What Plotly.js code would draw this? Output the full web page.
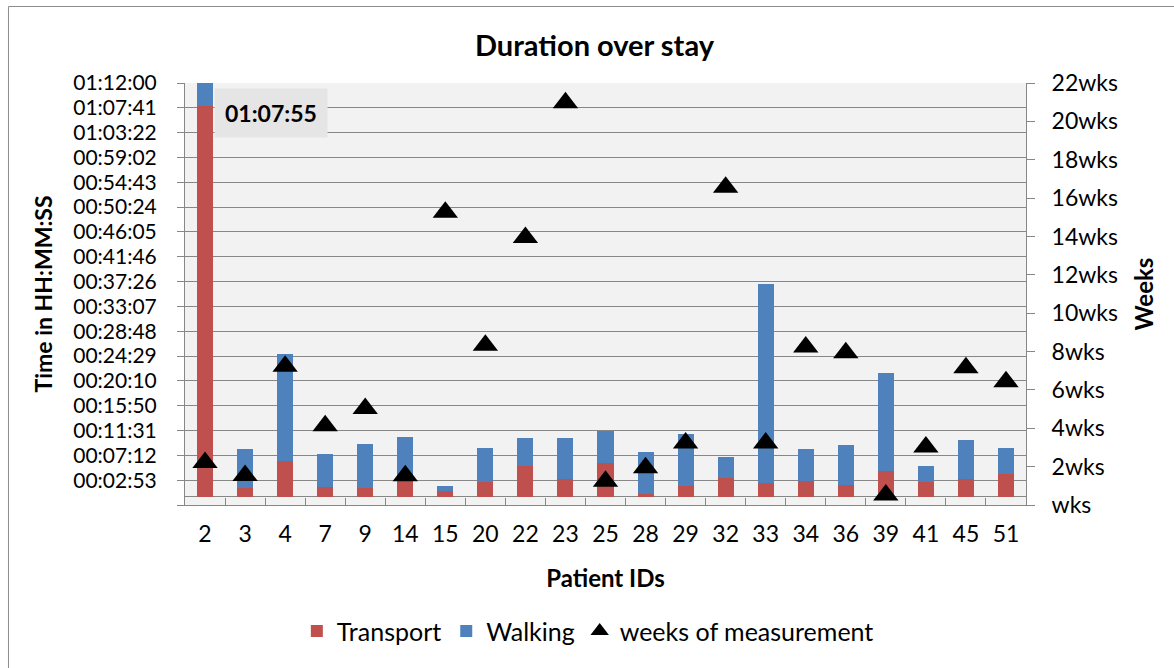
<!DOCTYPE html>
<html>
<head>
<meta charset="utf-8">
<script src="https://cdn.plot.ly/plotly-3.0.1.min.js"></script>
<style>
  html, body { margin: 0; padding: 0; background: #ffffff; }
  #chart { width: 1174px; height: 668px; }
</style>
</head>
<body>
<div id="chart"></div>
<script>
// ---- data ----
var patientIds = ['2', '3', '4', '7', '9', '14', '15', '20', '22', '23', '25', '28', '29', '32', '33', '34', '36', '39', '41', '45', '51'];
// durations in seconds
var transportSec = [4075, 93, 375, 100, 93, 215, 58, 152, 316, 184, 351, 27, 117, 194, 142, 166, 121, 268, 159, 190, 239];
var walkingSec = [320, 404, 1118, 348, 457, 407, 49, 362, 300, 432, 334, 439, 533, 220, 2083, 334, 414, 1027, 157, 401, 272];
// weeks of measurement
var weeks = [2.22, 1.54, 7.23, 4.13, 5.03, 1.52, 15.26, 8.33, 13.95, 20.97, 1.24, 1.94, 3.23, 16.56, 3.23, 8.24, 7.94, 0.52, 3.03, 7.15, 6.43];

// axis ticks (seconds) : Excel day fraction -0.001 .. 0.05 step 0.003
var timeTickVals = [-86.4, 172.8, 432, 691.2, 950.4, 1209.6, 1468.8, 1728, 1987.2, 2246.4, 2505.6, 2764.8, 3024, 3283.2, 3542.4, 3801.6, 4060.8, 4320];
var timeTickText = ['', '00:02:53', '00:07:12', '00:11:31', '00:15:50', '00:20:10', '00:24:29', '00:28:48', '00:33:07', '00:37:26', '00:41:46', '00:46:05', '00:50:24', '00:54:43', '00:59:02', '01:03:22', '01:07:41', '01:12:00'];
var weekTickVals = [0, 2, 4, 6, 8, 10, 12, 14, 16, 18, 20, 22];
var weekTickText = weekTickVals.map(function (v) { return (v === 0 ? '' : v) + 'wks'; });

function fmt(sec) {
  sec = Math.round(sec);
  var h = Math.floor(sec / 3600), m = Math.floor((sec % 3600) / 60), s = sec % 60;
  function p(n) { return (n < 10 ? '0' : '') + n; }
  return p(h) + ':' + p(m) + ':' + p(s);
}

var FONT = 'Lato, "Open Sans", sans-serif';
var GRID = '#878787';

var traces = [
  {
    type: 'bar', name: 'Transport', x: patientIds, y: transportSec,
    marker: { color: '#c0504d' }, yaxis: 'y', hoverinfo: 'x+y'
  },
  {
    type: 'bar', name: 'Walking', x: patientIds, y: walkingSec,
    marker: { color: '#4f81bd' }, yaxis: 'y', hoverinfo: 'x+y'
  },
  {
    type: 'scatter', mode: 'markers', name: 'weeks of measurement', x: patientIds, y: weeks,
    yaxis: 'y2', cliponaxis: false,
    marker: { symbol: 'triangle-up', size: 22, color: '#000000', line: { width: 0 } }
  }
];

var labelIdx = patientIds.indexOf('2');

var layout = {
  width: 1174, height: 668,
  margin: { l: 185, r: 148, t: 83, b: 163, pad: 0 },
  paper_bgcolor: '#ffffff',
  plot_bgcolor: '#f2f2f2',
  font: { family: FONT, size: 23, color: '#000000' },
  barmode: 'stack',
  bargap: 0.6,
  showlegend: true,
  title: {
    text: '<b>Duration over stay</b>',
    font: { family: FONT, size: 29, color: '#000000' },
    x: 0.5064, xanchor: 'center', xref: 'container',
    y: 0.931, yanchor: 'middle', yref: 'container'
  },
  xaxis: {
    type: 'category',
    range: [-0.5, patientIds.length - 0.5],
    title: { text: '<b>Patient IDs</b>', font: { size: 24 }, standoff: 24 },
    showline: true, linecolor: GRID, linewidth: 1, mirror: false,
    showgrid: false, zeroline: false,
    ticks: 'inside', tickson: 'boundaries', ticklen: 7, tickcolor: GRID, tickwidth: 1,
    ticklabelstandoff: 8,
    tickfont: { size: 23 },
    automargin: false
  },
  yaxis: {
    range: [-86.4, 4320],
    tickmode: 'array', tickvals: timeTickVals, ticktext: timeTickText,
    showgrid: true, gridcolor: GRID, gridwidth: 1,
    zeroline: true, zerolinecolor: GRID, zerolinewidth: 1,
    showline: true, linecolor: GRID, linewidth: 1,
    ticks: 'outside', ticklen: 7, tickcolor: GRID,
    ticklabelstandoff: 16,
    tickfont: { size: 21 },
    title: { text: '<b>Time in HH:MM:SS</b>', font: { size: 23 }, standoff: 14 },
    automargin: false
  },
  yaxis2: {
    overlaying: 'y', side: 'right', range: [0, 22],
    tickmode: 'array', tickvals: weekTickVals, ticktext: weekTickText,
    showgrid: false, zeroline: false,
    showline: true, linecolor: GRID, linewidth: 1,
    ticks: 'outside', ticklen: 8, tickcolor: GRID,
    ticklabelstandoff: 12,
    tickfont: { size: 23 },
    title: { text: '<b>Weeks</b>', font: { size: 24 }, standoff: 19 },
    automargin: false
  },
  legend: {
    orientation: 'h', x: 0.479, xanchor: 'center', y: -0.299, yanchor: 'middle',
    font: { size: 25 }, itemwidth: 30, bgcolor: 'rgba(0,0,0,0)', traceorder: 'normal'
  },
  annotations: [
    {
      x: labelIdx, y: transportSec[labelIdx], xref: 'x', yref: 'y',
      text: '<b>' + fmt(transportSec[labelIdx]) + '</b>',
      showarrow: false, xanchor: 'left', yanchor: 'middle', xshift: 9, yshift: -7,
      bgcolor: '#e5e5e5', borderpad: 10, font: { size: 23, family: FONT, color: '#000000' }
    }
  ],
  shapes: [
    {
      type: 'rect', xref: 'paper', yref: 'paper',
      x0: -0.2099, x1: 1.5, y0: -0.7, y1: 1.1813,
      line: { color: '#8c8c8c', width: 1 }, fillcolor: 'rgba(0,0,0,0)', layer: 'below'
    }
  ]
};

Plotly.newPlot('chart', traces, layout, { displayModeBar: false, staticPlot: true });
</script>
</body>
</html>
